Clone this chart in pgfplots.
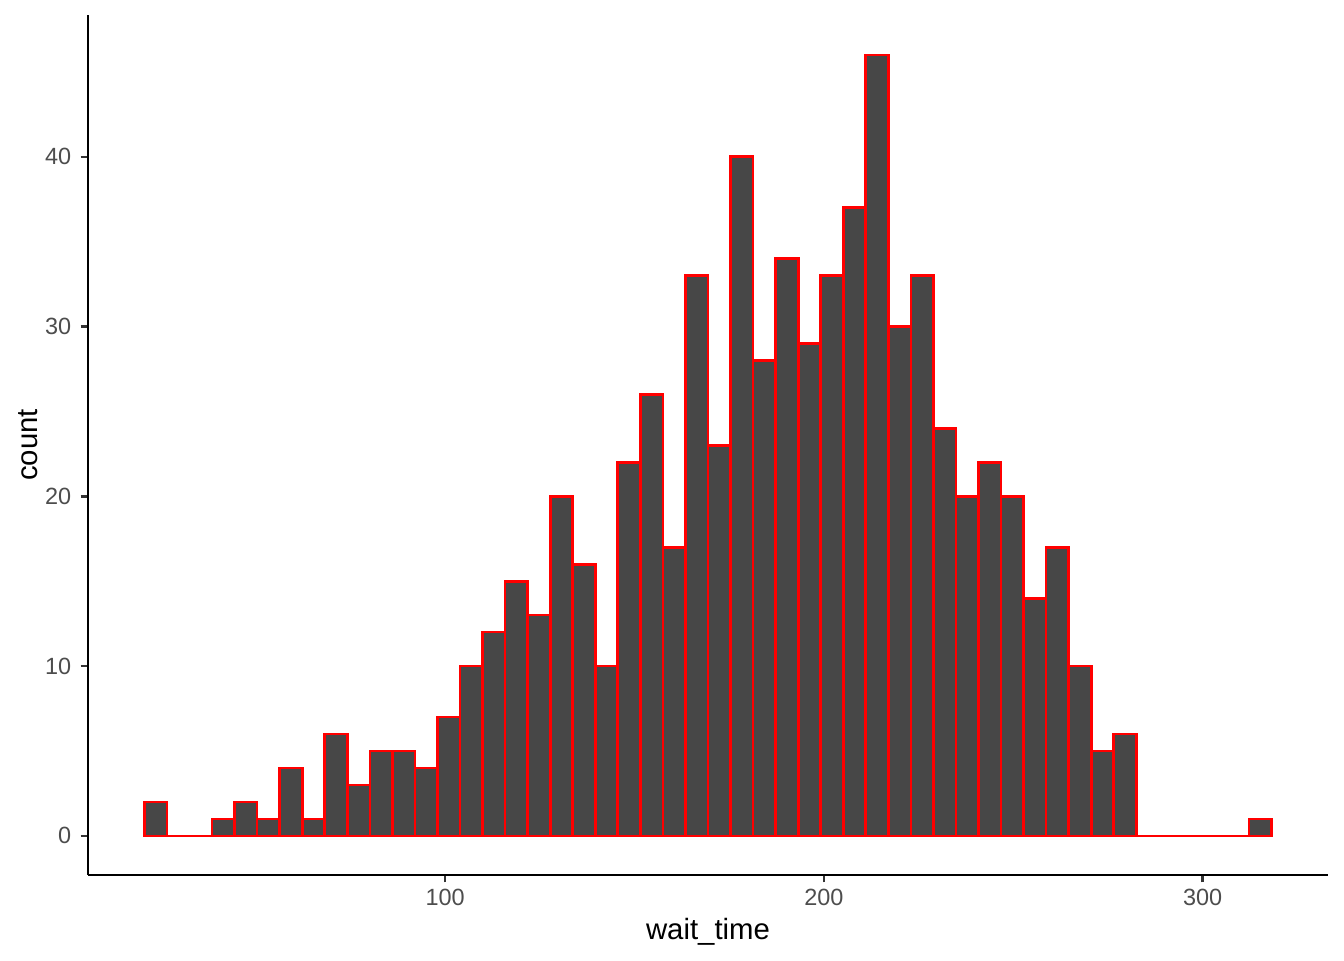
\documentclass[border=0pt]{standalone}
\usepackage{pgfplots}
\pgfplotsset{compat=1.18}
\usepackage{fontspec}
\setmainfont{Liberation Sans}
\definecolor{barfill}{HTML}{474747}
\definecolor{ticklab}{HTML}{4D4D4D}
\definecolor{tickcol}{HTML}{333333}
\begin{document}
\begin{tikzpicture}
\begin{axis}[
  scale only axis,
  width=465pt, height=322.5pt,
  xmin=5.7, xmax=333.1,
  ymin=-2.3, ymax=48.35,
  axis x line*=bottom, axis y line*=left,
  axis line style={black, line width=0.9pt},
  xtick={100,200,300}, ytick={0,10,20,30,40},
  tick align=outside,
  major tick length=2.75pt,
  tick style={tickcol, line width=0.9pt},
  ticklabel style={font=\fontsize{8.8}{10}\selectfont, text=ticklab},
  xticklabel style={yshift=1pt},
  /pgf/number format/assume math mode=true,
  xlabel={wait\_time}, ylabel={count},
  label style={font=\fontsize{11}{13}\selectfont},
  xlabel style={yshift=2pt},
  ylabel style={yshift=-4pt},
  clip=false,
]
\addplot[ybar interval, fill=barfill, draw=red, line width=1pt] coordinates {
(20.60,2) (26.55,0) (32.50,0) (38.46,1) (44.41,2) (50.36,1) (56.31,4) (62.26,1)
(68.22,6) (74.17,3) (80.12,5) (86.07,5) (92.02,4) (97.98,7) (103.93,10) (109.88,12)
(115.83,15) (121.78,13) (127.74,20) (133.69,16) (139.64,10) (145.59,22) (151.54,26)
(157.50,17) (163.45,33) (169.40,23) (175.35,40) (181.30,28) (187.26,34) (193.21,29)
(199.16,33) (205.11,37) (211.06,46) (217.02,30) (222.97,33) (228.92,24) (234.87,20)
(240.82,22) (246.78,20) (252.73,14) (258.68,17) (264.63,10) (270.58,5) (276.54,6)
(282.49,0) (288.44,0) (294.39,0) (300.34,0) (306.30,0) (312.25,1) (318.20,1)
};
\end{axis}
\pgfresetboundingbox
\path (-33pt,-31.9pt) rectangle (471pt,328.1pt);
\end{tikzpicture}
\end{document}
